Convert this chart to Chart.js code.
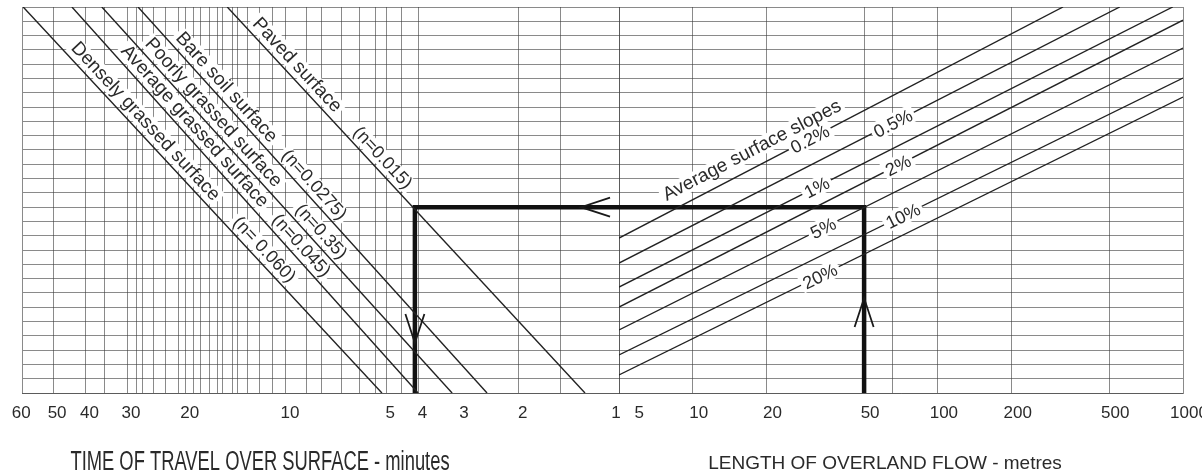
<!DOCTYPE html>
<html>
<head>
<meta charset="utf-8">
<script src="https://cdn.jsdelivr.net/npm/chart.js@4"></script>
<style>
  html, body { margin: 0; padding: 0; background: #fff; }
  #wrap { width: 1202px; height: 476px; position: relative; }
</style>
</head>
<body>
<div id="wrap"><canvas id="nomograph"></canvas></div>
<script>

// Left half: time of travel (minutes), log scale running right to left
const timeLabels = [60, 50, 40, 30, 20, 10, 5, 4, 3, 2, 1];
const timeGrid = [50, 40, 35, 30, 28, 27, 25, 23, 21, 20, 19, 18, 17, 16, 15.5, 14.5, 14, 13, 12, 11, 10, 8.7, 7.8, 6.8, 6, 5.4, 5, 4.5, 4, 2, 1.5, 1];
const timeMin = 1;
const timeMax = 62;

// Right half: length of overland flow (metres), log scale
const lengthLabels = [5, 10, 20, 50, 100, 200, 500, 1000];
const lengthGrid = [5, 10, 20, 50, 65, 100, 200, 500, 1000];
const lengthMin = 5;
const lengthMax = 1000;

// Shared turning scale (unlabelled horizontal rulings)
const turnMin = 0;
const turnMax = 27;

// Surface lines: time where each meets the top edge and the bottom edge
const surfaceNames = ['Paved surface', 'Bare soil surface', 'Poorly grassed surface', 'Average grassed surface', 'Densely grassed surface'];
const surfaceN = ['(n=0.015)', '(n=0.0275)', '(n=0.35)', '(n=0.045)', '(n= 0.060)'];
const surfaceTopTime = [15.0, 27.8, 35.7, 43.9, 61.5];
const surfaceBottomTime = [1.265, 2.49, 3.17, 4.01, 5.15];
const surfaceNameAt = [25.5, 24.5, 24.1, 23.6, 23.8];
const surfaceNAt = [17.9, 16.3, 12.5, 11.8, 11.6];

// Slope lines: start on the left edge (5 m), end on the top or right edge
const slopeLabels = ['0.2%', '0.5%', '1%', '2%', '5%', '10%', '20%'];
const slopeStartTurn = [10.84, 9.09, 7.41, 6.01, 4.41, 2.66, 1.26];
const slopeEndLength = [324, 552, 908, 1000, 1000, 1000, 1000];
const slopeEndTurn = [27, 27, 27, 26.08, 24.13, 22.03, 20.7];
const slopeLabelAt = [30, 65.5, 32, 68.7, 34, 72, 33];
const slopeTitle = 'Average surface slopes';
const slopeTitleAt = 8.2;

// Worked example: 50 m on a 5% slope, paved surface -> about 4 minutes
const exampleLength = 50;
const exampleTurn = 13;
const exampleTime = 4.1;
const arrowAxis = ['xTime', 'xLength', 'xTime'];
const arrowAt = [1.3, 50, 4.1];
const arrowTurn = [13, 6.64, 3.5];
const arrowDir = ['left', 'up', 'down'];

const timeTitle = 'TIME OF TRAVEL OVER SURFACE - minutes';
const lengthTitle = 'LENGTH OF OVERLAND FLOW - metres';

// --- Styling ---
const FONT = '"Liberation Sans", Arial, sans-serif';
const GRID = 'rgba(60,60,60,0.6)';
const INK = '#222';
const TEXT = '#2a2a2a';

// --- Datasets ---
const datasets = [];

surfaceNames.forEach((name, i) => {
    datasets.push({
        label: name,
        xAxisID: 'xTime',
        data: [{ x: surfaceTopTime[i], y: turnMax }, { x: surfaceBottomTime[i], y: turnMin }],
        borderColor: INK,
        borderWidth: 1.4
    });
});

slopeLabels.forEach((s, i) => {
    datasets.push({
        label: s,
        xAxisID: 'xLength',
        data: [{ x: lengthMin, y: slopeStartTurn[i] }, { x: slopeEndLength[i], y: slopeEndTurn[i] }],
        borderColor: INK,
        borderWidth: 1.4
    });
});

datasets.push({
    label: 'example-right',
    xAxisID: 'xLength',
    data: [{ x: exampleLength, y: turnMin }, { x: exampleLength, y: exampleTurn }, { x: lengthMin, y: exampleTurn }],
    borderColor: '#111',
    borderWidth: 4.5,
    borderJoinStyle: 'miter'
});
datasets.push({
    label: 'example-left',
    xAxisID: 'xTime',
    data: [{ x: timeMin, y: exampleTurn }, { x: exampleTime, y: exampleTurn }, { x: exampleTime, y: turnMin }],
    borderColor: '#111',
    borderWidth: 4.5,
    borderJoinStyle: 'miter'
});

datasets.forEach(d => {
    d.yAxisID = 'y';
    d.pointRadius = 0;
    d.fill = false;
    d.tension = 0;
});

// --- Helpers for text drawn along the lines ---
function linePixels(chart, axisId, p0, p1) {
    const xs = chart.scales[axisId], ys = chart.scales.y;
    return [
        { x: xs.getPixelForValue(p0.x), y: ys.getPixelForValue(p0.y) },
        { x: xs.getPixelForValue(p1.x), y: ys.getPixelForValue(p1.y) }
    ];
}

function footAtY(a, b, y) {
    return { x: a.x + (b.x - a.x) * (y - a.y) / (b.y - a.y), y: y };
}

function footAtX(a, b, x) {
    return { x: x, y: a.y + (b.y - a.y) * (x - a.x) / (b.x - a.x) };
}

// mode 'above': text starts at foot and sits beside the line; 'on': centred on the line
function drawAlong(ctx, a, b, foot, text, size, mode, phase, gap = 2.5) {
    const ang = Math.atan2(b.y - a.y, b.x - a.x);
    ctx.save();
    ctx.translate(foot.x, foot.y);
    ctx.rotate(ang);
    ctx.font = size + 'px ' + FONT;
    const w = ctx.measureText(text).width;
    let x0, base, top, bottom;
    if (mode === 'on') {
        x0 = -w / 2;
        base = size * 0.36;
        top = -size * 0.52;
        bottom = size * 0.5;
    } else {
        x0 = 0;
        base = -(gap + size * 0.2);
        top = -(gap + size * 0.95);
        bottom = -gap;
    }
    if (phase === 'bg') {
        ctx.fillStyle = '#fff';
        ctx.fillRect(x0 - 3, top, w + 6, bottom - top);
    } else {
        ctx.fillStyle = TEXT;
        ctx.textAlign = 'left';
        ctx.textBaseline = 'alphabetic';
        ctx.fillText(text, x0, base);
    }
    ctx.restore();
}

function drawSurfaceText(chart, phase) {
    const ctx = chart.ctx, ys = chart.scales.y;
    surfaceNames.forEach((name, i) => {
        const [a, b] = linePixels(chart, 'xTime',
            { x: surfaceTopTime[i], y: turnMax }, { x: surfaceBottomTime[i], y: turnMin });
        drawAlong(ctx, a, b, footAtY(a, b, ys.getPixelForValue(surfaceNameAt[i])), name, 19, 'above', phase);
        drawAlong(ctx, a, b, footAtY(a, b, ys.getPixelForValue(surfaceNAt[i])), surfaceN[i], 18, 'above', phase);
    });
    const [a0, b0] = linePixels(chart, 'xLength',
        { x: lengthMin, y: slopeStartTurn[0] }, { x: slopeEndLength[0], y: slopeEndTurn[0] });
    const xs = chart.scales.xLength;
    drawAlong(ctx, a0, b0, footAtX(a0, b0, xs.getPixelForValue(slopeTitleAt)), slopeTitle, 19, 'above', phase, 7);
}

function drawSlopeLabels(chart) {
    const ctx = chart.ctx, xs = chart.scales.xLength;
    slopeLabels.forEach((s, i) => {
        const [a, b] = linePixels(chart, 'xLength',
            { x: lengthMin, y: slopeStartTurn[i] }, { x: slopeEndLength[i], y: slopeEndTurn[i] });
        const foot = footAtX(a, b, xs.getPixelForValue(slopeLabelAt[i]));
        drawAlong(ctx, a, b, foot, s, 18, 'on', 'bg');
        drawAlong(ctx, a, b, foot, s, 18, 'on', 'text');
    });
}

function drawArrows(chart) {
    const ctx = chart.ctx;
    ctx.save();
    ctx.strokeStyle = '#1a1a1a';
    ctx.lineWidth = 1.8;
    arrowDir.forEach((dir, i) => {
        const tx = chart.scales[arrowAxis[i]].getPixelForValue(arrowAt[i]);
        const ty = chart.scales.y.getPixelForValue(arrowTurn[i]);
        const back = { left: [1, 0], up: [0, 1], down: [0, -1] }[dir];
        const len = 29, hw = 9.5;
        const bx = tx + back[0] * len, by = ty + back[1] * len;
        ctx.beginPath();
        ctx.moveTo(bx - back[1] * hw, by - back[0] * hw);
        ctx.lineTo(tx, ty);
        ctx.lineTo(bx + back[1] * hw, by + back[0] * hw);
        ctx.stroke();
    });
    ctx.restore();
}

const lineTextPlugin = {
    id: 'lineText',
    beforeDatasetsDraw(chart) {
        drawSurfaceText(chart, 'bg');
    },
    afterDatasetsDraw(chart) {
        drawSlopeLabels(chart);
        drawSurfaceText(chart, 'text');
        drawArrows(chart);
    }
};

const axisTitlePlugin = {
    id: 'axisTitles',
    afterDraw(chart) {
        const ctx = chart.ctx;
        const t = chart.scales.xTime, l = chart.scales.xLength;
        ctx.save();
        ctx.fillStyle = TEXT;
        ctx.textAlign = 'center';
        ctx.textBaseline = 'middle';
        ctx.translate(t.left + 238, 463);
        ctx.scale(0.68, 1);
        ctx.font = '27px ' + FONT;
        ctx.fillText(timeTitle, 0, 0);
        ctx.restore();
        ctx.save();
        ctx.fillStyle = TEXT;
        ctx.textAlign = 'center';
        ctx.textBaseline = 'middle';
        ctx.font = '19px ' + FONT;
        ctx.fillText(lengthTitle, l.left + 266, 464);
        ctx.restore();
    }
};

function fitBottom(scale) {
    scale.height = 83;
    scale.paddingLeft = 0;
    scale.paddingRight = 0;
}

const timeAxisValues = [...new Set([...timeGrid, ...timeLabels])].sort((a, b) => a - b);
const lengthAxisValues = [...new Set([...lengthGrid, ...lengthLabels])].sort((a, b) => a - b);

const tickFont = { family: FONT, size: 17 };

new Chart(document.getElementById('nomograph'), {
    type: 'line',
    data: { datasets },
    options: {
        responsive: true,
        maintainAspectRatio: false,
        animation: false,
        events: [],
        layout: { padding: { left: 22, right: 19, top: 7, bottom: 0 } },
        plugins: {
            legend: { display: false },
            tooltip: { enabled: false }
        },
        scales: {
            xTime: {
                type: 'logarithmic',
                position: 'bottom',
                stack: 'bottom',
                stackWeight: 597,
                reverse: true,
                min: timeMin,
                max: timeMax,
                afterBuildTicks: s => { s.ticks = timeAxisValues.map(v => ({ value: v })); },
                afterFit: fitBottom,
                grid: {
                    drawTicks: false,
                    color: c => (c.tick && timeGrid.includes(c.tick.value)) ? GRID : 'rgba(0,0,0,0)'
                },
                border: { display: true, color: GRID },
                ticks: {
                    autoSkip: false,
                    maxRotation: 0,
                    padding: 10,
                    labelOffset: 4,
                    color: TEXT,
                    font: tickFont,
                    callback: v => {
                        if (!timeLabels.includes(v)) return '';
                        if (v === timeMin) return v + '   ';
                        if (v === 60) return v + '    ';
                        return String(v);
                    }
                }
            },
            xLength: {
                type: 'logarithmic',
                position: 'bottom',
                stack: 'bottom',
                stackWeight: 564,
                min: lengthMin,
                max: lengthMax,
                afterBuildTicks: s => { s.ticks = lengthAxisValues.map(v => ({ value: v })); },
                afterFit: fitBottom,
                grid: {
                    drawTicks: false,
                    color: c => (c.tick && lengthGrid.includes(c.tick.value)) ? GRID : 'rgba(0,0,0,0)'
                },
                border: { display: true, color: GRID },
                ticks: {
                    autoSkip: false,
                    maxRotation: 0,
                    padding: 10,
                    labelOffset: 6,
                    color: TEXT,
                    font: tickFont,
                    callback: v => {
                        if (!lengthLabels.includes(v)) return '';
                        return v === lengthMin ? '      ' + v : String(v);
                    }
                }
            },
            y: {
                type: 'linear',
                min: turnMin,
                max: turnMax,
                afterFit: s => { s.width = 0; },
                grid: { drawTicks: false, color: GRID },
                border: { display: true, color: GRID },
                ticks: { display: false, stepSize: 1, maxTicksLimit: 100 }
            }
        }
    },
    plugins: [lineTextPlugin, axisTitlePlugin]
});
</script>
</body>
</html>
